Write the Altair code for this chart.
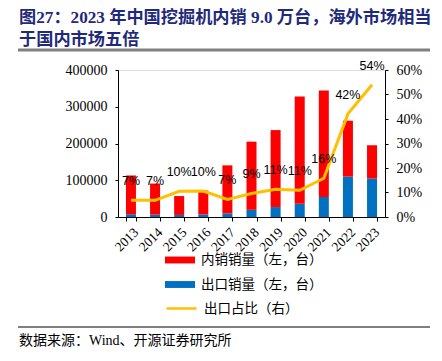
import altair as alt
import pandas as pd

years = ["2013", "2014", "2015", "2016", "2017", "2018", "2019", "2020", "2021", "2022", "2023"]
domestic = [105500, 84600, 51400, 65000, 130700, 185500, 209500, 292000, 289500, 152000, 90500]
export = [7500, 6400, 5600, 7000, 9800, 19500, 27000, 36000, 54500, 110000, 105000]
share = [0.068, 0.068, 0.105, 0.106, 0.072, 0.096, 0.113, 0.109, 0.158, 0.421, 0.540]
share_labels = ["7%", "7%", "10%", "10%", "7%", "9%", "11%", "11%", "16%", "42%", "54%"]

s_dom = "内销销量（左，台）"
s_exp = "出口销量（左，台）"
s_share = "出口占比（右）"

title_1 = "图27：2023 年中国挖掘机内销 9.0 万台，海外市场相当"
title_2 = "于国内市场五倍"
source = "数据来源：Wind、开源证券研究所"

bars_df = pd.DataFrame({
    "year": years * 2,
    "series": [s_exp] * len(years) + [s_dom] * len(years),
    "order": [0] * len(years) + [1] * len(years),
    "value": export + domestic,
})
line_df = pd.DataFrame({"year": years, "share": share, "label": share_labels, "series": [s_share] * len(years)})

SERIF = "Liberation Serif, Noto Sans CJK SC"
CJK = "Noto Sans CJK SC"

xenc = alt.X("year:N", sort=years, title=None,
             scale=alt.Scale(paddingInner=0.585, paddingOuter=0.33),
             axis=alt.Axis(labelAngle=-45, labelFont=SERIF, labelFontSize=13.5, labelColor="black",
                           domainColor="black", tickColor="black", tickSize=4, tickBand="extent",
                           labelPadding=4))

bars = alt.Chart(bars_df).mark_bar().encode(
    x=xenc,
    y=alt.Y("value:Q", stack="zero", title=None,
            scale=alt.Scale(domain=[0, 400000]),
            axis=alt.Axis(values=[0, 100000, 200000, 300000, 400000], format="d", grid=False,
                          labelFont=SERIF, labelFontSize=14, labelColor="black",
                          domainColor="black", tickColor="black", tickSize=3, labelPadding=8)),
    fill=alt.Fill("series:N",
                  scale=alt.Scale(domain=[s_dom, s_exp], range=["#FF0000", "#0070C0"]),
                  legend=alt.Legend(title=None, orient="none", legendX=47, legendY=175,
                                    symbolType="M-1,-0.23L1,-0.23L1,0.23L-1,0.23Z", symbolSize=900,
                                    symbolStrokeWidth=0, labelFont=CJK, labelFontSize=13.5,
                                    labelColor="black", rowPadding=2.5, labelOffset=6)),
    order=alt.Order("order:Q"),
)

yshare = alt.Y("share:Q", title=None, scale=alt.Scale(domain=[0, 0.6]),
               axis=alt.Axis(orient="right", values=[0, 0.1, 0.2, 0.3, 0.4, 0.5, 0.6], format=".0%",
                             grid=False, labelFont=SERIF, labelFontSize=14, labelColor="black",
                             domainColor="black", tickColor="black", tickSize=3, labelPadding=8))

line = alt.Chart(line_df).mark_line(strokeWidth=3).encode(
    x=alt.X("year:N", sort=years),
    y=yshare,
    stroke=alt.Stroke("series:N", scale=alt.Scale(domain=[s_share], range=["#FFC000"]),
                      legend=alt.Legend(title=None, orient="none", legendX=47, legendY=222,
                                        symbolType="stroke", symbolSize=900, symbolStrokeWidth=2.5,
                                        labelFont=CJK, labelFontSize=13.5, labelColor="black",
                                        labelOffset=6)),
)

labels = alt.Chart(line_df).mark_text(dy=-19, font="Liberation Sans", fontSize=12.5, color="black").encode(
    x=alt.X("year:N", sort=years),
    y=alt.Y("share:Q", scale=alt.Scale(domain=[0, 0.6]), axis=None),
    text="label:N",
)

ann = pd.DataFrame({"a": [0]})
t1 = alt.Chart(ann).mark_text(align="left", baseline="top", font=SERIF, fontSize=17.2,
                              fontWeight="bold", color="#1F2A7A").encode(
    x=alt.value(-99), y=alt.value(-61), text=alt.value(title_1))
t2 = alt.Chart(ann).mark_text(align="left", baseline="top", font=SERIF, fontSize=17.2,
                              fontWeight="bold", color="#1F2A7A").encode(
    x=alt.value(-99), y=alt.value(-39), text=alt.value(title_2))
r1 = alt.Chart(ann).mark_rule(color="#808080", strokeWidth=3).encode(
    x=alt.value(-100), x2=alt.value(312), y=alt.value(-20))
r2 = alt.Chart(ann).mark_rule(color="black", strokeWidth=1).encode(
    x=alt.value(-100), x2=alt.value(312), y=alt.value(257))
t3 = alt.Chart(ann).mark_text(align="left", baseline="middle", font=SERIF, fontSize=14, color="black").encode(
    x=alt.value(-99), y=alt.value(271), text=alt.value(source))

chart = alt.layer(bars, line, labels, t1, t2, r1, r2, t3).resolve_scale(
    y="independent", fill="independent", stroke="independent"
).properties(
    width=267, height=147,
    autosize=alt.AutoSizeParams(type="none"),
    padding={"left": 110, "top": 62, "right": 49, "bottom": 136},
).configure_view(stroke=None).configure(background="white")

chart.save("out.html", embed_options={"renderer": "svg", "actions": False})
